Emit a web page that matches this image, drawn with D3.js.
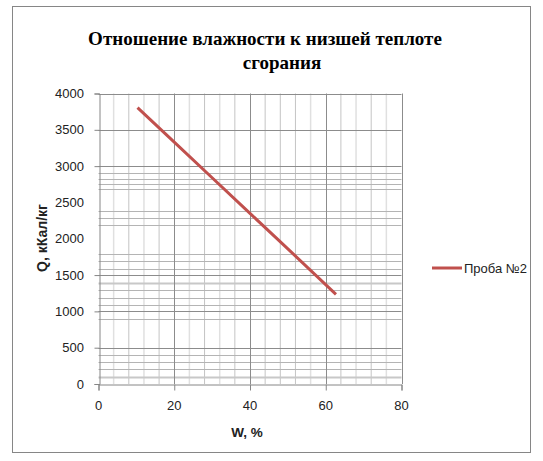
<!DOCTYPE html>
<html><head><meta charset="utf-8">
<script src="https://cdn.jsdelivr.net/npm/d3@7"></script>
<style>body{margin:0;background:#fff}svg{display:block}</style>
</head><body>
<script>
// Data
const titleLines = ["Отношение влажности к низшей теплоте", "сгорания"];
const seriesName = "Проба №2";
const wValues = [10.3, 20, 30, 40, 50, 62.7];
const qValues = [3805, 3330, 2840, 2350, 1860, 1235];
const xTicks = [0, 20, 40, 60, 80];
const yTicks = [0, 500, 1000, 1500, 2000, 2500, 3000, 3500, 4000];
const yMajorGrid = [500, 1000, 1500, 3000, 3500, 4000];
const yMinorGrid = [200, 300, 400, 900, 1090, 1190, 1290, 1590, 1690, 1790, 2190, 2290, 2380, 2690, 2750, 2820, 2900];
const yLightGrid = [100, 1390];
const xMinorGrid = [8, 16, 28, 36, 44, 48, 52, 64, 72];
const xLightGrid = [4, 12, 24, 32, 56, 68, 76];
const xMajorGrid = [20, 40, 60, 80];

const W = 543, H = 461;
const svg = d3.select("body").append("svg").attr("width", W).attr("height", H);
svg.append("rect").attr("x", 12.5).attr("y", 6.5).attr("width", 518).attr("height", 446)
  .attr("fill", "#fff").attr("stroke", "#868686").attr("stroke-width", 1);

const x = d3.scaleLinear().domain([0, 80]).range([98.5, 401.5]);
const y = d3.scaleLinear().domain([0, 4000]).range([384, 93.5]);

const g = svg.append("g");
// vertical grid
g.selectAll(".vl").data(xLightGrid).join("line").attr("x1", d => x(d)).attr("x2", d => x(d))
  .attr("y1", y(4000)).attr("y2", y(0)).attr("stroke", "#e0e0e0").attr("stroke-width", 1.5);
g.selectAll(".vm").data(xMinorGrid).join("line").attr("x1", d => x(d)).attr("x2", d => x(d))
  .attr("y1", y(4000)).attr("y2", y(0)).attr("stroke", "#c4c4c4").attr("stroke-width", 1);
// horizontal grid
g.selectAll(".hl").data(yLightGrid).join("line").attr("x1", x(0)).attr("x2", x(80))
  .attr("y1", d => Math.round(y(d)) + 0.5).attr("y2", d => Math.round(y(d)) + 0.5).attr("stroke", "#c8c8c8").attr("stroke-width", 2);
g.selectAll(".hm").data(yMinorGrid).join("line").attr("x1", x(0)).attr("x2", x(80))
  .attr("y1", d => Math.round(y(d)) + 0.5).attr("y2", d => Math.round(y(d)) + 0.5).attr("stroke", "#b4b4b4").attr("stroke-width", 1);
g.selectAll(".hM").data(yMajorGrid).join("line").attr("x1", x(0)).attr("x2", x(80))
  .attr("y1", d => Math.round(y(d)) + 0.5).attr("y2", d => Math.round(y(d)) + 0.5).attr("stroke", "#8c8c8c").attr("stroke-width", 1);
g.selectAll(".vM").data(xMajorGrid).join("line").attr("x1", d => Math.round(x(d)) + 0.5).attr("x2", d => Math.round(x(d)) + 0.5)
  .attr("y1", y(4000)).attr("y2", y(0)).attr("stroke", "#8c8c8c").attr("stroke-width", 1);

// axes
const fontAxis = "'Liberation Sans', Arial, sans-serif";
const yAxis = d3.axisLeft(y).tickValues(yTicks.filter(d => d !== 2000 && d !== 2500)).tickSize(5).tickFormat("");
svg.append("g").attr("transform", `translate(${Math.round(x(0)) + 0.5},0)`).call(yAxis)
  .call(s => { s.selectAll("path,line").attr("stroke", "#868686"); });
const xAxis = d3.axisBottom(x).tickValues(xTicks).tickSize(6).tickFormat("");
svg.append("g").attr("transform", `translate(0,${Math.round(y(0)) + 0.5})`).call(xAxis)
  .call(s => { s.selectAll("path,line").attr("stroke", "#868686"); });

// tick labels
svg.selectAll(".yt").data(yTicks).join("text").attr("x", 84).attr("y", d => y(d) + 4.5)
  .attr("text-anchor", "end").attr("font-family", fontAxis).attr("font-size", 13).attr("fill", "#222")
  .text(d => d);
svg.selectAll(".xt").data(xTicks).join("text").attr("x", d => x(d)).attr("y", 410)
  .attr("text-anchor", "middle").attr("font-family", fontAxis).attr("font-size", 13).attr("fill", "#222")
  .text(d => d);

// axis titles
svg.append("text").attr("x", 247).attr("y", 437).attr("text-anchor", "middle")
  .attr("font-family", fontAxis).attr("font-weight", "bold").attr("font-size", 13.5).attr("fill", "#222").text("W, %");
svg.append("text").attr("transform", "translate(46.5,238) rotate(-90)").attr("text-anchor", "middle")
  .attr("font-family", fontAxis).attr("font-weight", "bold").attr("font-size", 14).attr("fill", "#222").text("Q, кКал/кг");

// title
svg.append("text").attr("x", 265).attr("y", 45).attr("text-anchor", "middle")
  .attr("font-family", "'Liberation Serif', 'Times New Roman', serif").attr("font-weight", "bold").attr("font-size", 19)
  .attr("fill", "#000").text(titleLines[0]);
svg.append("text").attr("x", 282).attr("y", 69).attr("text-anchor", "middle")
  .attr("font-family", "'Liberation Serif', 'Times New Roman', serif").attr("font-weight", "bold").attr("font-size", 19)
  .attr("fill", "#000").text(titleLines[1]);

// series
const pts = wValues.map((w, i) => [w, qValues[i]]);
svg.append("path").datum(pts).attr("d", d3.line().x(d => x(d[0])).y(d => y(d[1])))
  .attr("fill", "none").attr("stroke", "#c0504d").attr("stroke-width", 3);

// legend
svg.append("line").attr("x1", 432).attr("x2", 462).attr("y1", 268).attr("y2", 268)
  .attr("stroke", "#c0504d").attr("stroke-width", 3);
svg.append("text").attr("x", 464).attr("y", 272.5).attr("font-family", fontAxis).attr("font-size", 13)
  .attr("fill", "#222").text(seriesName);
</script>
</body></html>
